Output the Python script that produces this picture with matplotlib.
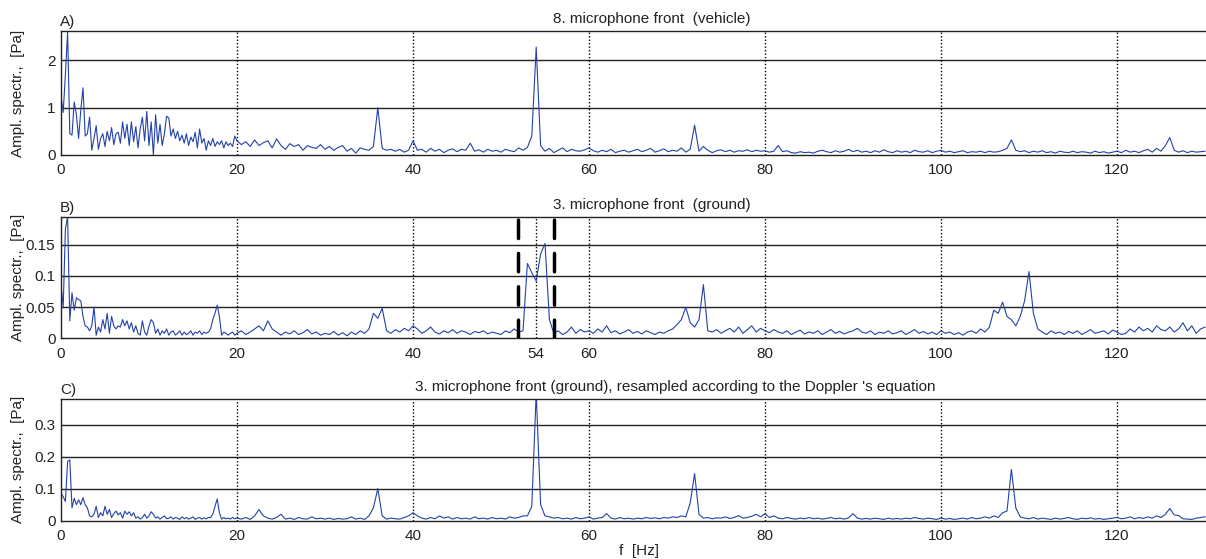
import numpy as np
import matplotlib
matplotlib.use('Agg')
import matplotlib.pyplot as plt

plt.rcParams['font.family'] = ['Liberation Sans', 'DejaVu Sans']

# frequency grid: 0.25 Hz steps below 20 Hz, 0.5 Hz steps from 20 to 130 Hz
f_lo = np.arange(0, 20, 0.25)
f_hi = np.arange(20, 130.5, 0.5)
freq = np.concatenate([f_lo, f_hi])

# A) 8. microphone front (vehicle)  [Pa]
a_lo = [1.25, 0.90, 1.70, 2.60, 0.45, 0.42, 1.12, 0.85, 0.35, 0.95,
        1.42, 0.40, 0.45, 0.80, 0.10, 0.35, 0.62, 0.12, 0.35, 0.45,
        0.18, 0.50, 0.30, 0.58, 0.22, 0.45, 0.48, 0.25, 0.70, 0.35,
        0.65, 0.20, 0.70, 0.28, 0.60, 0.15, 0.55, 0.80, 0.30, 0.92,
        0.20, 0.70, 0.00, 0.85, 0.25, 0.65, 0.20, 0.45, 0.82, 0.78,
        0.40, 0.55, 0.35, 0.50, 0.30, 0.42, 0.25, 0.45, 0.20, 0.38,
        0.28, 0.48, 0.15, 0.55, 0.25, 0.35, 0.10, 0.30, 0.20, 0.35,
        0.18, 0.28, 0.22, 0.30, 0.15, 0.28, 0.20, 0.25, 0.18, 0.40]
a_hi = [0.30, 0.22, 0.28, 0.18, 0.32, 0.20, 0.26, 0.30, 0.15, 0.34,
        0.20, 0.12, 0.24, 0.18, 0.22, 0.10, 0.20, 0.16, 0.14, 0.22,
        0.12, 0.18, 0.10, 0.16, 0.20, 0.08, 0.14, 0.04, 0.15, 0.12,
        0.10, 0.18, 1.00, 0.14, 0.10, 0.12, 0.08, 0.12, 0.06, 0.10,
        0.30, 0.10, 0.12, 0.06, 0.14, 0.08, 0.12, 0.05, 0.10, 0.13,
        0.07, 0.12, 0.10, 0.25, 0.08, 0.11, 0.06, 0.12, 0.08, 0.10,
        0.06, 0.12, 0.09, 0.07, 0.15, 0.10, 0.16, 0.40, 2.28, 0.20,
        0.08, 0.14, 0.05, 0.10, 0.15, 0.07, 0.12, 0.09, 0.08, 0.11,
        0.15, 0.09, 0.06, 0.10, 0.07, 0.12, 0.05, 0.08, 0.10, 0.06,
        0.09, 0.12, 0.07, 0.10, 0.14, 0.06, 0.09, 0.13, 0.07, 0.10,
        0.08, 0.15, 0.06, 0.12, 0.63, 0.08, 0.18, 0.10, 0.05, 0.09,
        0.11, 0.07, 0.10, 0.06, 0.09, 0.08, 0.11, 0.07, 0.10, 0.08,
        0.09, 0.06, 0.08, 0.20, 0.07, 0.09, 0.05, 0.04, 0.07, 0.05,
        0.06, 0.04, 0.08, 0.10, 0.07, 0.05, 0.09, 0.06, 0.08, 0.12,
        0.07, 0.10, 0.06, 0.08, 0.05, 0.09, 0.06, 0.11, 0.07, 0.05,
        0.09, 0.06, 0.08, 0.05, 0.10, 0.07, 0.06, 0.09, 0.05, 0.08,
        0.10, 0.06, 0.08, 0.05, 0.07, 0.09, 0.05, 0.07, 0.06, 0.08,
        0.05, 0.08, 0.06, 0.07, 0.10, 0.14, 0.32, 0.10, 0.07, 0.09,
        0.05, 0.08, 0.06, 0.09, 0.05, 0.07, 0.04, 0.08, 0.06, 0.05,
        0.08, 0.05, 0.07, 0.06, 0.04, 0.08, 0.05, 0.07, 0.04, 0.06,
        0.08, 0.05, 0.10, 0.06, 0.08, 0.05, 0.09, 0.12, 0.06, 0.14,
        0.08, 0.20, 0.37, 0.10, 0.06, 0.09, 0.05, 0.08, 0.06, 0.07,
        0.08]

# B) 3. microphone front (ground)  [Pa]
b_lo = [0.085, 0.050, 0.175, 0.195, 0.028, 0.073, 0.045, 0.065, 0.062, 0.060,
        0.035, 0.020, 0.018, 0.012, 0.020, 0.050, 0.005, 0.018, 0.010, 0.030,
        0.015, 0.040, 0.008, 0.035, 0.020, 0.015, 0.020, 0.018, 0.030, 0.020,
        0.028, 0.015, 0.025, 0.010, 0.020, 0.008, 0.005, 0.028, 0.010, 0.005,
        0.020, 0.030, 0.025, 0.008, 0.015, 0.005, 0.012, 0.008, 0.015, 0.005,
        0.010, 0.012, 0.005, 0.008, 0.012, 0.005, 0.010, 0.006, 0.008, 0.012,
        0.005, 0.010, 0.008, 0.012, 0.006, 0.010, 0.008, 0.010, 0.015, 0.030,
        0.040, 0.053, 0.035, 0.005, 0.010, 0.008, 0.005, 0.008, 0.010, 0.005]
b_hi = [0.008, 0.012, 0.006, 0.010, 0.015, 0.020, 0.012, 0.028, 0.015, 0.010,
        0.005, 0.010, 0.007, 0.012, 0.006, 0.009, 0.014, 0.007, 0.010, 0.005,
        0.008, 0.006, 0.011, 0.005, 0.009, 0.004, 0.010, 0.006, 0.012, 0.008,
        0.015, 0.040, 0.032, 0.048, 0.012, 0.008, 0.014, 0.010, 0.016, 0.012,
        0.020, 0.015, 0.008, 0.012, 0.018, 0.010, 0.007, 0.012, 0.009, 0.014,
        0.008, 0.012, 0.010, 0.006, 0.011, 0.009, 0.012, 0.007, 0.010, 0.008,
        0.006, 0.012, 0.009, 0.015, 0.010, 0.012, 0.120, 0.105, 0.092, 0.135,
        0.152, 0.030, 0.008, 0.012, 0.006, 0.010, 0.018, 0.008, 0.014, 0.010,
        0.012, 0.008, 0.015, 0.010, 0.020, 0.009, 0.012, 0.007, 0.010, 0.014,
        0.008, 0.011, 0.007, 0.012, 0.009, 0.006, 0.010, 0.008, 0.012, 0.015,
        0.022, 0.030, 0.050, 0.025, 0.018, 0.030, 0.086, 0.012, 0.010, 0.014,
        0.008, 0.012, 0.016, 0.010, 0.018, 0.008, 0.014, 0.020, 0.010, 0.016,
        0.012, 0.009, 0.014, 0.010, 0.008, 0.012, 0.006, 0.010, 0.013, 0.007,
        0.010, 0.008, 0.012, 0.006, 0.010, 0.014, 0.008, 0.011, 0.007, 0.010,
        0.012, 0.016, 0.010, 0.008, 0.012, 0.006, 0.010, 0.008, 0.012, 0.007,
        0.009, 0.012, 0.006, 0.010, 0.014, 0.008, 0.011, 0.007, 0.010, 0.006,
        0.012, 0.008, 0.010, 0.006, 0.009, 0.005, 0.010, 0.012, 0.008, 0.015,
        0.010, 0.018, 0.045, 0.040, 0.058, 0.035, 0.030, 0.020, 0.035, 0.060,
        0.107, 0.040, 0.015, 0.010, 0.006, 0.012, 0.008, 0.010, 0.006, 0.011,
        0.008, 0.012, 0.006, 0.010, 0.014, 0.008, 0.010, 0.012, 0.007, 0.013,
        0.010, 0.006, 0.008, 0.015, 0.010, 0.018, 0.012, 0.016, 0.010, 0.020,
        0.014, 0.012, 0.018, 0.010, 0.015, 0.025, 0.012, 0.020, 0.008, 0.015,
        0.018]

# C) resampled according to the Doppler's equation  [Pa]
c_lo = [0.085, 0.075, 0.060, 0.185, 0.190, 0.040, 0.070, 0.050, 0.065, 0.050,
        0.072, 0.050, 0.040, 0.015, 0.012, 0.020, 0.045, 0.010, 0.025, 0.015,
        0.045, 0.020, 0.035, 0.010, 0.022, 0.030, 0.018, 0.025, 0.008, 0.030,
        0.020, 0.028, 0.015, 0.025, 0.008, 0.012, 0.005, 0.010, 0.020, 0.008,
        0.015, 0.028, 0.020, 0.008, 0.012, 0.005, 0.010, 0.015, 0.006, 0.008,
        0.012, 0.005, 0.010, 0.008, 0.004, 0.012, 0.006, 0.010, 0.005, 0.008,
        0.012, 0.004, 0.008, 0.010, 0.005, 0.009, 0.006, 0.010, 0.010, 0.020,
        0.045, 0.068, 0.025, 0.005, 0.010, 0.006, 0.008, 0.005, 0.010, 0.006]
c_hi = [0.008, 0.005, 0.010, 0.004, 0.015, 0.035, 0.015, 0.008, 0.005, 0.010,
        0.020, 0.005, 0.008, 0.004, 0.010, 0.006, 0.005, 0.012, 0.006, 0.008,
        0.005, 0.008, 0.004, 0.007, 0.005, 0.006, 0.012, 0.005, 0.008, 0.004,
        0.015, 0.040, 0.100, 0.015, 0.005, 0.008, 0.006, 0.005, 0.010, 0.015,
        0.025, 0.015, 0.008, 0.005, 0.010, 0.006, 0.015, 0.008, 0.012, 0.005,
        0.010, 0.006, 0.008, 0.005, 0.012, 0.006, 0.008, 0.005, 0.010, 0.006,
        0.008, 0.005, 0.012, 0.008, 0.010, 0.015, 0.015, 0.045, 0.400, 0.050,
        0.015, 0.012, 0.008, 0.010, 0.006, 0.008, 0.005, 0.010, 0.006, 0.008,
        0.012, 0.005, 0.008, 0.010, 0.022, 0.008, 0.005, 0.010, 0.006, 0.008,
        0.005, 0.008, 0.006, 0.010, 0.007, 0.009, 0.006, 0.010, 0.008, 0.012,
        0.010, 0.015, 0.012, 0.055, 0.147, 0.020, 0.008, 0.010, 0.006, 0.009,
        0.008, 0.012, 0.007, 0.010, 0.016, 0.008, 0.010, 0.014, 0.020, 0.012,
        0.022, 0.010, 0.015, 0.008, 0.006, 0.010, 0.007, 0.005, 0.008, 0.006,
        0.010, 0.006, 0.008, 0.005, 0.007, 0.010, 0.006, 0.008, 0.005, 0.009,
        0.022, 0.008, 0.005, 0.007, 0.005, 0.008, 0.006, 0.004, 0.008, 0.005,
        0.007, 0.005, 0.008, 0.006, 0.010, 0.007, 0.005, 0.008, 0.006, 0.004,
        0.008, 0.005, 0.007, 0.004, 0.006, 0.008, 0.005, 0.010, 0.006, 0.008,
        0.012, 0.008, 0.015, 0.010, 0.025, 0.030, 0.160, 0.040, 0.012, 0.008,
        0.006, 0.010, 0.005, 0.008, 0.006, 0.004, 0.008, 0.005, 0.007, 0.010,
        0.006, 0.004, 0.008, 0.006, 0.009, 0.005, 0.007, 0.004, 0.006, 0.008,
        0.010, 0.006, 0.008, 0.012, 0.006, 0.010, 0.007, 0.012, 0.008, 0.015,
        0.010, 0.020, 0.038, 0.018, 0.016, 0.006, 0.005, 0.004, 0.008, 0.010,
        0.012]

x_ticks = [0, 20, 40, 60, 80, 100, 120]
panels = [
    ('A)', '8. microphone front  (vehicle)', a_lo + a_hi, 2.62, [0, 1, 2], ['0', '1', '2']),
    ('B)', '3. microphone front  (ground)', b_lo + b_hi, 0.195,
     [0, 0.05, 0.1, 0.15], ['0', '0.05', '0.1', '0.15']),
    ('C)', "3. microphone front (ground), resampled according to the Doppler 's equation",
     c_lo + c_hi, 0.38, [0, 0.1, 0.2, 0.3], ['0', '0.1', '0.2', '0.3']),
]
# axes boxes in pixels: top, bottom
boxes = [(31, 155), (216.7, 338.3), (399, 520.7)]
title_x = [651.7, 651.7, 675]

W, H = 1206, 559
fig = plt.figure(figsize=(W / 100, H / 100), dpi=100)
line_col = '#2342a8'
grid_col = '#222222'

for (tag, title, amp, ymax, yt, ytl), (top, bot), tx in zip(panels, boxes, title_x):
    ax = fig.add_axes([61 / W, (H - bot) / H, 136 * 8.8 / W, (bot - top) / H])
    ax.plot(freq, amp, color=line_col, lw=0.8)
    ax.set_xlim(0, 136)
    ax.set_ylim(0, ymax)
    ax.set_yticks(yt)
    ax.set_yticklabels(ytl)
    if tag == 'B)':
        ax.set_xticks(x_ticks + [54])
        ax.set_xticklabels([str(t) for t in x_ticks] + ['54'])
    else:
        ax.set_xticks(x_ticks)
    for y in yt[1:]:
        ax.axhline(y, color=grid_col, lw=1.0, zorder=0)
    for x in x_ticks[1:]:
        ax.axvline(x, color='black', lw=1.0, ls=(0, (1, 1.5)), zorder=0)
    if tag == 'B)':
        ax.axvline(54, color='black', lw=1.0, ls=(0, (1, 1.5)), zorder=0)
        for x in (51.9, 56.0):
            ax.axvline(x, color='black', lw=2.5, ls=(0, (5.3, 4.3)),
                       dash_capstyle='round', zorder=3)
    ax.spines['right'].set_visible(False)
    for s in ('top', 'left', 'bottom'):
        ax.spines[s].set_color(grid_col)
        ax.spines[s].set_linewidth(1.0)
    ax.tick_params(direction='in', length=3, labelsize=11, colors='#222222',
                   pad=4, top=False, right=False)
    ax.tick_params(axis='x', length=0, pad=6)
    fig.text(tx / W, 1 - ((top - 12) / H), title, ha='center', va='center',
             fontsize=11, color='#222222')
    fig.text(60 / W, 1 - ((top - 9) / H), tag, ha='left', va='center',
             fontsize=11, color='#222222')
    fig.text(18 / W, 1 - ((top + bot) / 2 / H), 'Ampl. spectr.,  [Pa]', rotation=90,
             ha='center', va='center', fontsize=11, color='#222222')

fig.text(639 / W, 1 - 551 / H, 'f  [Hz]', ha='center', va='center', fontsize=11,
         color='#222222')

fig.savefig('out.png', dpi=100)
